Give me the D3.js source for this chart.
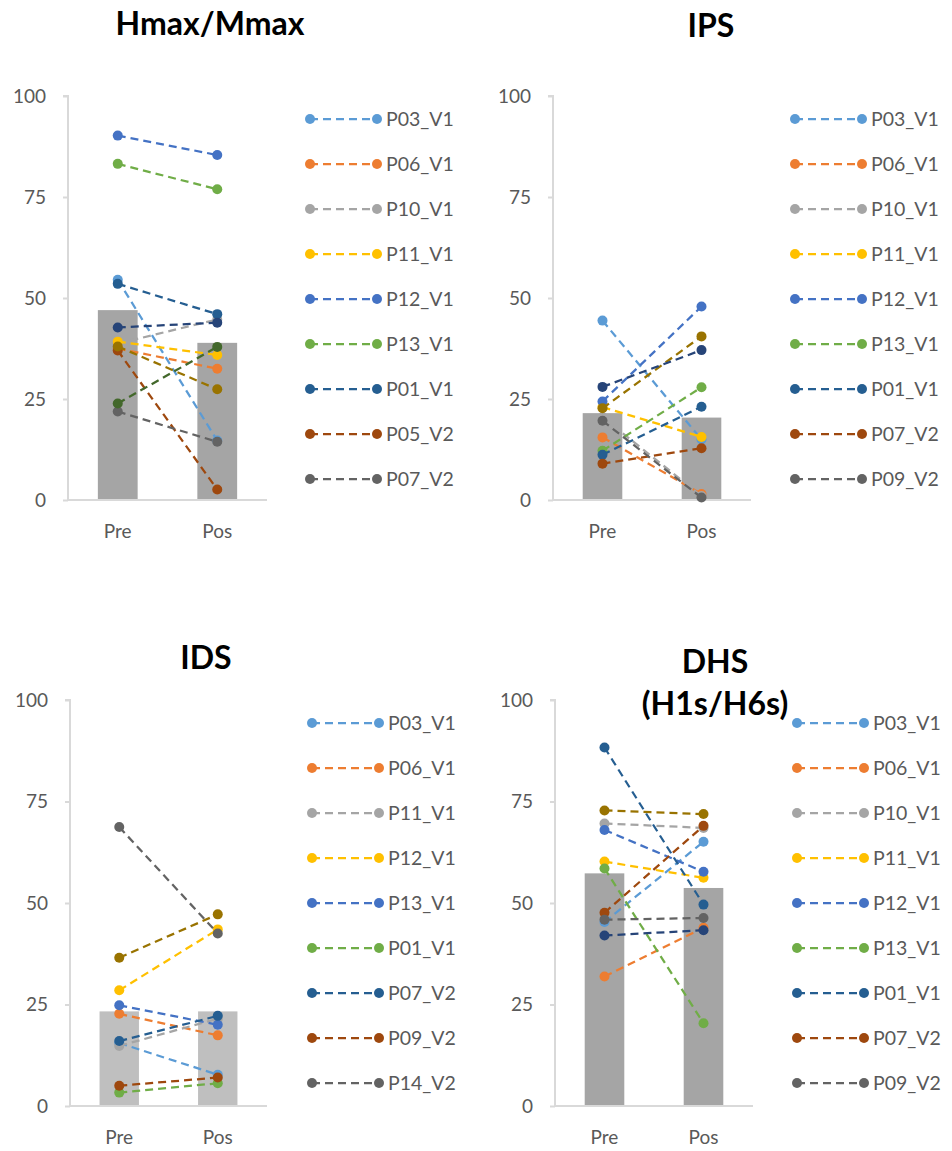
<!DOCTYPE html>
<html><head><meta charset="utf-8">
<script src="https://cdn.jsdelivr.net/npm/d3@7"></script>
<style>
body{margin:0;background:#fff;}
svg{display:block;font-family:Lato, "Liberation Sans", sans-serif;}
</style></head>
<body>
<svg id="c" width="952" height="1151"></svg>
<script>
// ---------- DATA ----------
const categories = ["Pre", "Pos"];
const yTicks = [0, 25, 50, 75, 100];
const palette = ["#5B9BD5","#ED7D31","#A5A5A5","#FFC000","#4472C4","#70AD47","#255E91","#9E480E","#636363","#997300","#264478","#43682B"];

// Panel 1: Hmax/Mmax
const hmaxTitle = ["Hmax/Mmax"];
const hmaxSeries = ["P03_V1","P06_V1","P10_V1","P11_V1","P12_V1","P13_V1","P01_V1","P05_V2","P07_V2","s10","s11","s12"];
const hmaxPre = [54.5, 37.5, 38.7, 39.2, 90.2, 83.2, 53.5, 37.0, 21.9, 38.0, 42.7, 23.9];
const hmaxPos = [14.7, 32.5, 44.7, 35.9, 85.4, 76.9, 46.0, 2.6, 14.4, 27.4, 43.9, 37.9];
const hmaxBars = [47.0, 38.9];

// Panel 2: IPS
const ipsTitle = ["IPS"];
const ipsSeries = ["P03_V1","P06_V1","P10_V1","P11_V1","P12_V1","P13_V1","P01_V1","P07_V2","P09_V2","s10","s11"];
const ipsPre = [44.4, 15.5, 20.5, 23.0, 24.4, 12.2, 11.2, 9.0, 19.6, 22.7, 28.0];
const ipsPos = [15.0, 1.5, 1.0, 15.6, 47.9, 27.9, 23.1, 12.8, 0.6, 40.5, 37.1];
const ipsBars = [21.5, 20.4];

// Panel 3: IDS
const idsTitle = ["IDS"];
const idsSeries = ["P03_V1","P06_V1","P11_V1","P12_V1","P13_V1","P01_V1","P07_V2","P09_V2","P14_V2","s10"];
const idsPre = [15.5, 22.7, 14.8, 28.5, 24.8, 3.3, 16.0, 5.0, 68.7, 36.5];
const idsPos = [7.7, 17.4, 21.5, 43.5, 20.0, 5.6, 22.2, 7.0, 42.5, 47.2];
const idsBars = [23.3, 23.3];

// Panel 4: DHS (H1s/H6s)
const dhsTitle = ["DHS", "(H1s/H6s)"];
const dhsSeries = ["P03_V1","P06_V1","P10_V1","P11_V1","P12_V1","P13_V1","P01_V1","P07_V2","P09_V2","s10","s11"];
const dhsPre = [45.3, 31.9, 69.6, 60.2, 68.0, 58.5, 88.3, 47.6, 45.9, 72.8, 42.0];
const dhsPos = [65.1, 43.9, 68.5, 56.2, 57.7, 20.4, 49.6, 69.0, 46.3, 71.9, 43.3];
const dhsBars = [57.3, 53.7];

const legendCount = 9;

// ---------- LAYOUT ----------
const panels = [
  {title: hmaxTitle, names: hmaxSeries, pre: hmaxPre, pos: hmaxPos, bars: hmaxBars, barColor:"#A5A5A5",
   x0: 68, x1: 267, yTop: 96, yBot: 500, titleX: 210, titleY: 35},
  {title: ipsTitle, names: ipsSeries, pre: ipsPre, pos: ipsPos, bars: ipsBars, barColor:"#A5A5A5",
   x0: 553, x1: 751, yTop: 96, yBot: 500, titleX: 711, titleY: 37},
  {title: idsTitle, names: idsSeries, pre: idsPre, pos: idsPos, bars: idsBars, barColor:"#BFBFBF",
   x0: 70, x1: 267, yTop: 700, yBot: 1106, titleX: 206, titleY: 669},
  {title: dhsTitle, names: dhsSeries, pre: dhsPre, pos: dhsPos, bars: dhsBars, barColor:"#A5A5A5",
   x0: 555, x1: 753, yTop: 700, yBot: 1106, titleX: 715, titleY: 673}
];

const svg = d3.select("#c");

panels.forEach(p => {
  const g = svg.append("g");
  const x = d3.scaleBand().domain(categories).range([p.x0, p.x1]).paddingInner(0.6).paddingOuter(0.3);
  const y = d3.scaleLinear().domain([0, 100]).range([p.yBot, p.yTop]);

  // bars
  g.selectAll("rect.bar").data(categories).join("rect")
    .attr("x", d => x(d)).attr("width", x.bandwidth())
    .attr("y", (d,i) => y(p.bars[i])).attr("height", (d,i) => y(0) - y(p.bars[i]))
    .attr("fill", p.barColor);

  // y axis
  const ya = g.append("g").attr("transform", `translate(${p.x0},0)`)
    .call(d3.axisLeft(y).tickValues(yTicks).tickSize(5).tickPadding(17).tickFormat(d3.format("d")));
  ya.select(".domain").attr("stroke", "#D9D9D9").attr("stroke-width", 2)
    .attr("d", `M${-5},${p.yTop}H0V${p.yBot}`);
  ya.selectAll(".tick line").attr("stroke", "#D9D9D9").attr("stroke-width", 2);
  ya.selectAll(".tick text").attr("fill", "#595959").style("font-size", "19px").style("font-family", "Lato, sans-serif");

  // x axis baseline
  g.append("line").attr("x1", p.x0).attr("x2", p.x1).attr("y1", y(0)).attr("y2", y(0))
    .attr("stroke", "#D9D9D9").attr("stroke-width", 2);
  g.selectAll("text.cat").data(categories).join("text")
    .attr("x", d => x(d) + x.bandwidth()/2).attr("y", y(0) + 38)
    .attr("text-anchor", "middle").attr("fill", "#595959").style("font-size", "19px")
    .text(d => d);

  // series lines and markers
  const cx = c => x(c) + x.bandwidth()/2;
  p.names.forEach((n, i) => {
    const col = palette[i];
    const vals = [p.pre[i], p.pos[i]];
    const sg = g.append("g");
    sg.append("path").datum(vals)
      .attr("d", d3.line().x((d,k) => cx(categories[k])).y(d => y(d)))
      .attr("fill", "none").attr("stroke", col).attr("stroke-width", 2.25)
      .attr("stroke-dasharray", "8,5");
    sg.selectAll("circle").data(vals).join("circle")
      .attr("cx", (d,k) => cx(categories[k])).attr("cy", d => y(d)).attr("r", 5)
      .attr("fill", col);
  });

  // legend
  const lx0 = p.x0 + 242, lx1 = p.x0 + 309;
  const lg = g.append("g");
  p.names.slice(0, legendCount).forEach((n, i) => {
    const ly = p.yTop + 23 + i * 45;
    const col = palette[i];
    lg.append("line").attr("x1", lx0).attr("x2", lx1).attr("y1", ly).attr("y2", ly)
      .attr("stroke", col).attr("stroke-width", 2.25).attr("stroke-dasharray", "8,5");
    lg.append("circle").attr("cx", lx0).attr("cy", ly).attr("r", 5).attr("fill", col);
    lg.append("circle").attr("cx", lx1).attr("cy", ly).attr("r", 5).attr("fill", col);
    lg.append("text").attr("x", lx1 + 9).attr("y", ly + 7).attr("fill", "#595959")
      .style("font-size", "19.5px").text(n);
  });

  // title
  p.title.forEach((t, k) => {
    g.append("text").attr("x", p.titleX).attr("y", p.titleY + k * 42)
      .attr("text-anchor", "middle").attr("fill", "#000").style("font-weight", "bold")
      .style("font-size", "32px").text(t);
  });
});
</script>
</body></html>
